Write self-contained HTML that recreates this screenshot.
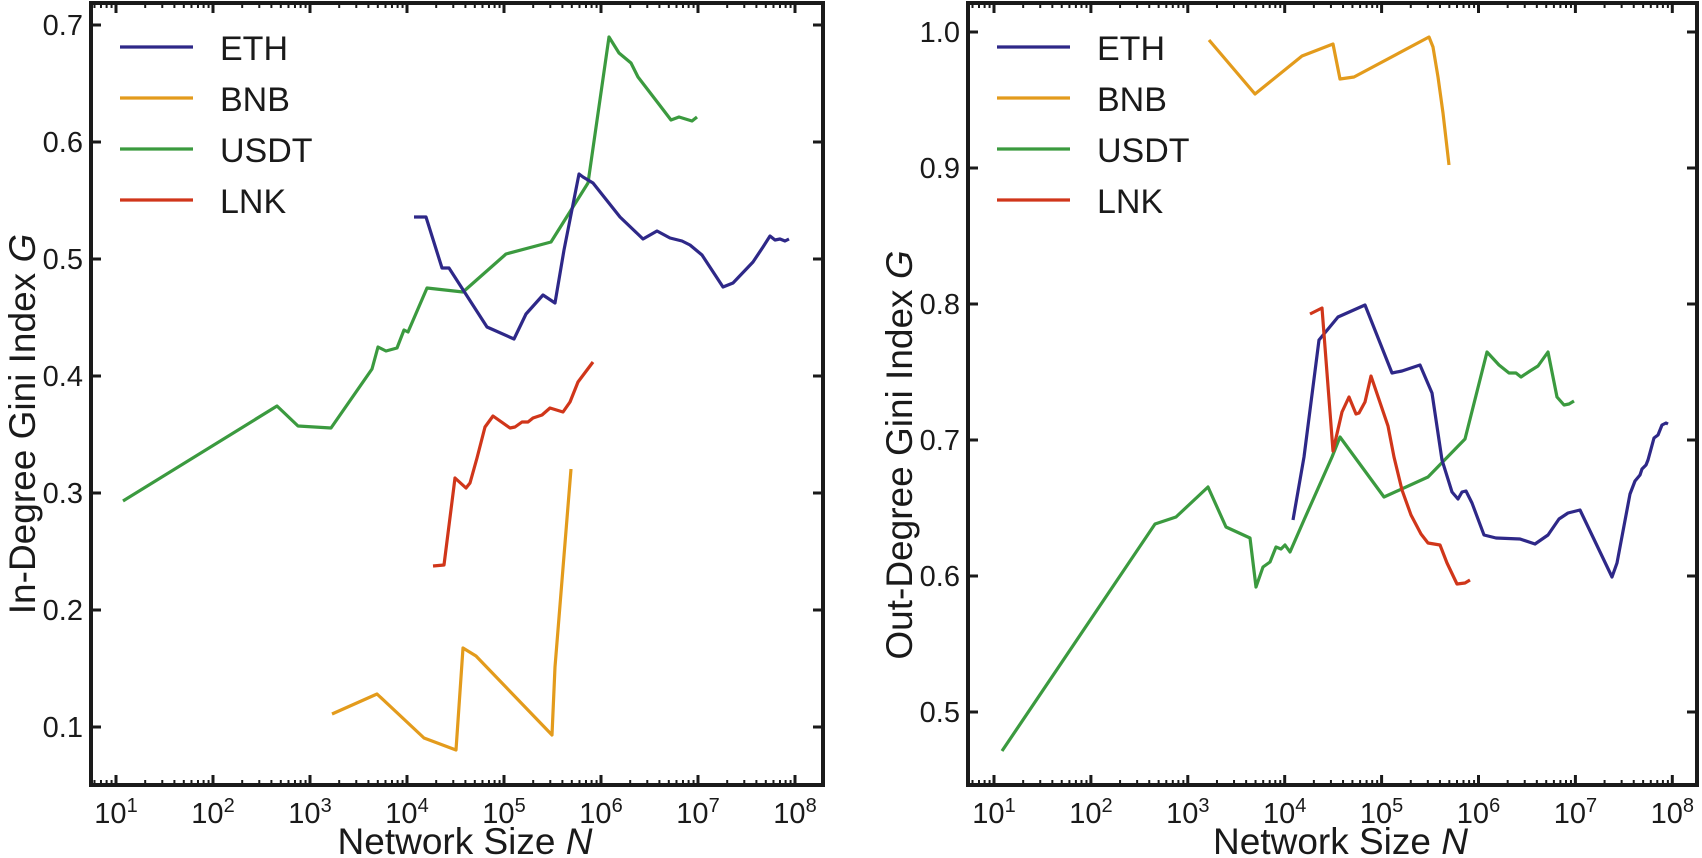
<!DOCTYPE html>
<html><head><meta charset="utf-8"><style>
html,body{margin:0;padding:0;background:#fff}
svg{display:block}
text{font-family:"Liberation Sans","DejaVu Sans",sans-serif;fill:#1a1a1a}
</style></head><body>
<svg id="s" width="1702" height="858" viewBox="0 0 1702 858" xmlns="http://www.w3.org/2000/svg">
<g fill="none" stroke-width="3.2" stroke-linejoin="round" stroke-linecap="butt">
<polyline stroke="#3b9a3f" points="123,501 277,406 298,426 331,428 372,369 378,347 386,351 397,348 404,330 408,332 427,288 463,292 506,254 551,242 588,183 609,37 619,53 631,63 638,77 658,103 671,120 679,117 692,121 697,117"/>
<polyline stroke="#2e2888" points="414,217 426,217 442,268 449,268 487,327 514,339 526,314 543,295 555,303 564,250 579,174 583,177 593,183 620,217 643,239 657,231 670,238 682,241 690,245 702,255 723,287 733,283 753,262 763,247 770,236 775,240 780,239 785,241 789,239"/>
<polyline stroke="#e39b1c" points="332,714 377,694 424,738 456,750 463,648 476,656 552,735 555,667 571,469"/>
<polyline stroke="#d0361a" points="433,566 444,565 455,478 466,488 470,483 477,458 485,427 493,416 510,428 515,427 522,422 528,422 533,418 542,415 550,408 563,412 570,402 578,382 593,362"/>
<polyline stroke="#3b9a3f" points="1002,751 1155,524 1176,517 1208,487 1226,527 1250,538 1256,587 1263,567 1270,562 1276,547 1281,549 1285,545 1290,552 1304,520 1332,457 1340,437 1384,497 1428,477 1465,439 1487,352 1499,365 1509,373 1516,373 1521,377 1530,371 1538,366 1548,352 1557,397 1564,405 1569,404 1574,401"/>
<polyline stroke="#2e2888" points="1293,520 1304,457 1319,340 1338,317 1365,305 1392,373 1402,371 1420,365 1432,393 1442,460 1452,492 1458,499 1462,492 1466,491 1472,503 1484,535 1496,538 1520,539 1535,544 1548,535 1559,519 1568,513 1580,510 1612,577 1617,563 1630,494 1635,481 1640,475 1642,469 1646,465 1648,460 1654,438 1658,435 1662,425 1666,423 1668,424"/>
<polyline stroke="#e39b1c" points="1209,40 1255,94 1302,56 1333,44 1340,79 1354,77 1429,37 1433,47 1438,77 1443,113 1449,165"/>
<polyline stroke="#d0361a" points="1310,314 1322,308 1333,451 1342,412 1349,397 1356,414 1359,413 1365,402 1371,376 1388,426 1394,457 1402,490 1411,515 1421,534 1428,543 1440,545 1447,563 1457,584 1465,583 1470,580"/>
</g>
<g id="axes"></g>
</svg>
<script>
(function(){
var NS="http://www.w3.org/2000/svg",g=document.getElementById("axes");
function el(n,a,t){var e=document.createElementNS(NS,n);for(var k in a)e.setAttribute(k,a[k]);if(t!==undefined)e.textContent=t;g.appendChild(e);return e;}
function line(x1,y1,x2,y2,w){el("line",{x1:x1,y1:y1,x2:x2,y2:y2,stroke:"#1a1a1a","stroke-width":w||3});}
function plot(L,R,T,B,x0,dec,yt,ylab,ylc){
  el("rect",{x:L,y:T,width:R-L,height:B-T,fill:"none",stroke:"#1a1a1a","stroke-width":4});
  for(var k=0;k<8;k++){
    var x=x0+k*dec;
    line(x,B,x,B-10,3);line(x,T,x,T+10,3);
    var t=el("text",{x:x,y:B+38,"font-size":29,"text-anchor":"middle"});
    t.textContent="10";
    var s=document.createElementNS(NS,"tspan");s.setAttribute("dy","-11");s.setAttribute("font-size","20");s.textContent=String(k+1);t.appendChild(s);
    for(var m=2;m<10;m++){
      var xm=x+Math.log10(m)*dec; if(xm<R-2){line(xm,B,xm,B-5,2);line(xm,T,xm,T+5,2);}
    }
    var xm2;for(var m=2;m<10;m++){xm2=x-dec+Math.log10(m)*dec; if(k==0&&xm2>L+2){line(xm2,B,xm2,B-5,2);line(xm2,T,xm2,T+5,2);}}
  }
  yt.forEach(function(p){line(L,p[1],L+10,p[1],3);line(R,p[1],R-10,p[1],3);
    el("text",{x:L-8,y:p[1]+10,"font-size":29,"text-anchor":"end"},p[0]);});
  var xl=el("text",{x:(L+R)/2+8,y:854,"font-size":37,"text-anchor":"middle"},"Network Size ");
  var it=document.createElementNS(NS,"tspan");it.setAttribute("font-style","italic");it.textContent="N";xl.appendChild(it);
  var yl=el("text",{x:0,y:0,"font-size":37,"text-anchor":"middle",transform:"translate("+(L-56)+","+ylc+") rotate(-90)"},ylab);
  var it2=document.createElementNS(NS,"tspan");it2.setAttribute("font-style","italic");it2.textContent="G";yl.appendChild(it2);
  var names=["ETH","BNB","USDT","LNK"],cols=["#2e2888","#e39b1c","#3b9a3f","#d0361a"];
  for(var i=0;i<4;i++){var y=47+i*51;
    el("line",{x1:L+29,y1:y,x2:L+102,y2:y,stroke:cols[i],"stroke-width":3.2});
    el("text",{x:L+129,y:y+13,"font-size":34},names[i]);}
}
plot(91,823,3,785,116,97,[["0.1",727],["0.2",610],["0.3",493],["0.4",376],["0.5",259],["0.6",142],["0.7",25]],"In-Degree Gini Index ",424);
plot(968,1697,3,785,994,96.9,[["0.5",712],["0.6",576],["0.7",440],["0.8",304],["0.9",168],["1.0",32]],"Out-Degree Gini Index ",455);
})();
</script>
</body></html>
